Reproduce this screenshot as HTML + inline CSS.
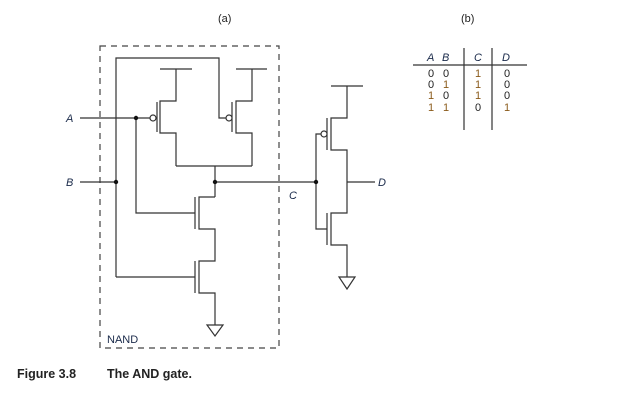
<!DOCTYPE html>
<html><head><style>
html,body{margin:0;padding:0;background:#fff;}
svg{display:block;}
text{font-family:"Liberation Sans",sans-serif;}
</style></head><body>
<svg width="626" height="403" viewBox="0 0 626 403" xmlns="http://www.w3.org/2000/svg">
<g fill="none" stroke="#333" stroke-width="1.2">
<!-- dashed box -->
<rect x="100" y="46" width="179" height="302" stroke-dasharray="6,5" stroke="#444"/>
<!-- top wire from B to pmos2 gate -->
<polyline points="116,277 116,58 219,58 219,118 226,118"/>
<!-- pmos1 -->
<line x1="160" y1="69" x2="192" y2="69"/>
<polyline points="176,69 176,101 160,101 160,133 176,133 176,166"/>
<line x1="157" y1="102" x2="157" y2="132"/>
<circle cx="153" cy="118" r="3" fill="#fff"/>
<!-- pmos2 -->
<line x1="236" y1="69" x2="267" y2="69"/>
<polyline points="252,69 252,101 236,101 236,133 252,133 252,166"/>
<line x1="232" y1="102" x2="232" y2="132"/>
<circle cx="229" cy="118" r="3" fill="#fff"/>
<line x1="176" y1="166" x2="252" y2="166"/>
<!-- A line -->
<line x1="80" y1="118" x2="150" y2="118"/>
<polyline points="136,118 136,213 195,213"/>
<!-- B line -->
<line x1="80" y1="182" x2="116" y2="182"/>
<line x1="116" y1="277" x2="195" y2="277"/>
<!-- output node / C -->
<line x1="215" y1="166" x2="215" y2="197"/>
<line x1="215" y1="182" x2="316" y2="182"/>
<!-- nmos1 -->
<polyline points="215,197 199,197 199,229 215,229 215,261 199,261 199,293 215,293 215,325"/>
<line x1="195" y1="197" x2="195" y2="229"/>
<line x1="195" y1="261" x2="195" y2="293"/>
<polygon points="207,325 223,325 215,336" fill="#fff"/>
<!-- inverter -->
<line x1="331" y1="86" x2="363" y2="86"/>
<polyline points="347,86 347,118 331,118 331,150 347,150 347,213 331,213 331,245 347,245 347,277"/>
<line x1="327" y1="118" x2="327" y2="150"/>
<line x1="327" y1="213" x2="327" y2="245"/>
<circle cx="324" cy="134" r="3" fill="#fff"/>
<polyline points="321,134 316,134 316,229 327,229"/>
<line x1="347" y1="182" x2="375" y2="182"/>
<polygon points="339,277 355,277 347,289" fill="#fff"/>
<!-- table lines -->
<line x1="413" y1="65" x2="527" y2="65"/>
<line x1="464" y1="48" x2="464" y2="130"/>
<line x1="492" y1="48" x2="492" y2="130"/>
</g>
<g fill="#111">
<circle cx="136" cy="118" r="2.2"/>
<circle cx="116" cy="182" r="2.2"/>
<circle cx="215" cy="182" r="2.2"/>
<circle cx="316" cy="182" r="2.2"/>
</g>
<g font-size="11" fill="#1a2a4a" font-style="italic">
<text x="66" y="122">A</text>
<text x="66" y="186">B</text>
<text x="289" y="199">C</text>
<text x="378" y="186">D</text>
<text x="427" y="61">A</text>
<text x="442" y="61">B</text>
<text x="474" y="61">C</text>
<text x="502" y="61">D</text>
</g>
<g font-size="11" text-anchor="middle">
<text x="431" y="77" fill="#222">0</text><text x="446" y="77" fill="#222">0</text><text x="478" y="77" fill="#8a5a1a">1</text><text x="507" y="77" fill="#222">0</text>
<text x="431" y="88" fill="#222">0</text><text x="446" y="88" fill="#8a5a1a">1</text><text x="478" y="88" fill="#8a5a1a">1</text><text x="507" y="88" fill="#222">0</text>
<text x="431" y="99" fill="#8a5a1a">1</text><text x="446" y="99" fill="#222">0</text><text x="478" y="99" fill="#8a5a1a">1</text><text x="507" y="99" fill="#222">0</text>
<text x="431" y="111" fill="#8a5a1a">1</text><text x="446" y="111" fill="#8a5a1a">1</text><text x="478" y="111" fill="#222">0</text><text x="507" y="111" fill="#8a5a1a">1</text>
</g>
<text x="107" y="343" font-size="11" fill="#1a2a4a">NAND</text>
<text x="218" y="22" font-size="11" fill="#222">(a)</text>
<text x="461" y="22" font-size="11" fill="#222">(b)</text>
<text x="17" y="378" font-size="12.5" font-weight="bold" fill="#222">Figure 3.8</text>
<text x="107" y="378" font-size="12.5" font-weight="bold" fill="#222">The AND gate.</text>
</svg>
</body></html>
